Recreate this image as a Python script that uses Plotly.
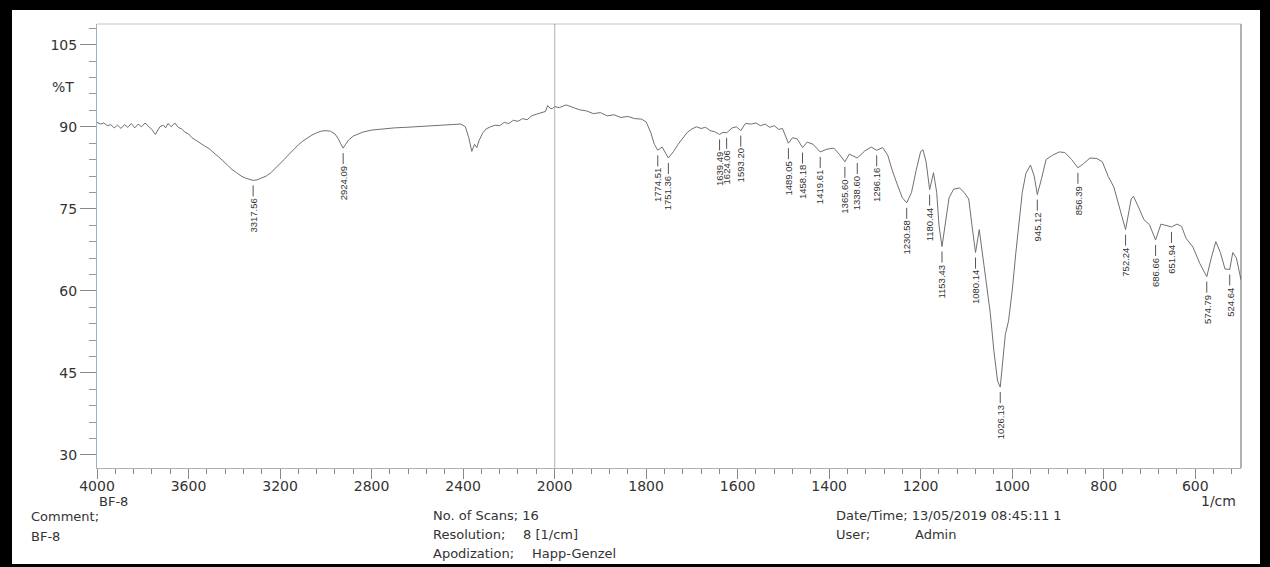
import numpy as np
import plotly.graph_objects as go

# ---------------- data ----------------
wavenumber = [
    4000, 3985, 3970, 3955, 3940, 3925, 3910, 3895, 3880, 3865, 3850, 3835, 3820, 3805,
    3790, 3775, 3760, 3745, 3735, 3725, 3710, 3700, 3690, 3675, 3660, 3645, 3630, 3615,
    3600, 3585, 3570, 3550, 3530, 3510, 3490, 3470, 3450, 3430, 3410, 3390, 3370, 3350,
    3330, 3317.56, 3300, 3280, 3260, 3240, 3220, 3200, 3180, 3160, 3140, 3120, 3100, 3080,
    3060, 3040, 3020, 3000, 2980, 2960, 2945, 2935, 2924.09, 2915, 2900, 2880, 2860, 2840,
    2800, 2760, 2700, 2650, 2600, 2550, 2500, 2450, 2410, 2390, 2375, 2362, 2350, 2340,
    2330, 2315, 2300, 2280, 2260, 2240, 2220, 2200, 2180, 2160, 2140, 2120, 2100, 2080,
    2060, 2040, 2030, 2020, 2010, 2000,
    1990, 1975, 1960, 1945, 1930, 1915, 1900, 1885, 1870, 1855, 1840, 1825, 1810, 1800,
    1790, 1782, 1774.51, 1765, 1751.36, 1740, 1730, 1720, 1710, 1700, 1690, 1680, 1670,
    1660, 1650, 1639.49, 1632, 1624.06, 1612, 1603, 1593.20, 1583, 1570, 1560, 1550, 1540,
    1530, 1520, 1510, 1502, 1495, 1489.05, 1480, 1470, 1458.18, 1448, 1435, 1419.61, 1405,
    1390, 1378, 1365.60, 1356, 1338.60, 1322, 1308, 1296.16, 1283, 1272, 1262, 1250, 1240,
    1230.58, 1220, 1210, 1200, 1195, 1188, 1180.44, 1172, 1165, 1160, 1153.43, 1145, 1138,
    1128, 1115, 1105, 1095, 1088, 1080.14, 1072, 1065, 1057, 1048, 1040, 1032, 1026.13,
    1020, 1015, 1008, 1000, 992, 985, 978, 970, 960, 952, 945.12, 936, 926, 912, 897, 885,
    870, 856.39, 845, 830, 815, 803, 790, 778, 768, 752.24, 740, 735, 725, 712, 700, 686.66,
    675, 665, 651.94, 640, 630, 620, 605, 590, 574.79, 565, 555, 545, 535, 524.64, 518, 510,
    503, 500,
]
transmittance = [
    90.8, 90.5, 90.7, 90.2, 90.4, 89.8, 90.3, 89.7, 90.4, 89.9, 90.6, 89.8, 90.5, 90.0,
    90.7, 90.1, 89.5, 88.6, 89.2, 90.0, 90.3, 89.8, 90.6, 90.0, 90.7, 89.9, 89.6, 89.0,
    88.7, 88.0, 87.6, 87.0, 86.5, 86.0, 85.3, 84.6, 83.8, 83.0, 82.2, 81.6, 81.0, 80.6,
    80.3, 80.2, 80.3, 80.6, 81.0, 81.6, 82.4, 83.2, 84.1, 85.0, 85.9, 86.7, 87.4, 88.0,
    88.5, 88.9, 89.2, 89.3, 89.2, 88.7, 87.8, 86.9, 86.1, 86.7, 87.6, 88.3, 88.7, 89.0,
    89.4, 89.6, 89.8, 89.9, 90.0, 90.1, 90.2, 90.4, 90.5, 90.0, 88.0, 85.5, 86.8, 86.2,
    87.5, 88.8, 89.6, 90.0, 90.3, 90.2, 90.8, 90.6, 91.2, 91.0, 91.5, 91.3, 92.0, 92.3,
    92.5, 92.8, 93.9, 93.4, 93.3, 93.7,
    93.5, 94.0, 93.6, 93.1, 92.9, 92.4, 92.6, 92.0, 92.2, 91.7, 91.9, 91.5, 91.4, 90.9,
    89.0, 86.8, 85.7, 86.3, 84.3, 85.5, 86.8, 88.0, 89.0, 89.6, 90.0, 89.7, 89.9,
    89.3, 89.1, 88.6, 89.0, 88.9, 89.8, 90.0, 89.3, 90.6, 90.5, 90.7, 90.2, 90.5,
    89.9, 90.2, 89.5, 89.7, 88.3, 87.0, 88.0, 87.8, 86.2, 87.2, 86.8, 85.4, 85.9,
    86.1, 85.0, 83.6, 85.0, 84.3, 85.6, 86.3, 85.7, 86.2, 84.8, 82.0, 79.2, 77.0,
    76.1, 78.0, 82.0, 85.5, 85.8, 83.5, 78.5, 81.6, 78.0, 72.0, 68.1, 72.5, 77.0,
    78.6, 78.8, 78.0, 76.8, 72.0, 67.0, 71.2, 67.0, 62.0, 56.0, 49.0, 43.5, 42.4,
    48.0, 52.0, 54.5, 60.0, 67.0, 73.0, 78.0, 81.5, 83.0, 81.0, 77.6, 80.5, 84.0, 84.8, 85.4, 85.3,
    84.0, 82.5, 83.2, 84.3, 84.2, 83.6, 80.9, 79.0, 76.0, 71.2, 76.8, 77.3, 75.5, 73.0, 72.1, 69.3,
    72.2, 72.0, 71.7, 72.2, 71.8, 69.6, 68.0, 65.0, 62.6, 66.0, 69.0, 67.0, 64.0, 63.9, 67.0, 66.0,
    63.5, 62.0,
]
peak_wn = [3317.56, 2924.09, 1774.51, 1751.36, 1639.49, 1624.06, 1593.20, 1489.05, 1458.18,
           1419.61, 1365.60, 1338.60, 1296.16, 1230.58, 1180.44, 1153.43, 1080.14, 1026.13,
           945.12, 856.39, 752.24, 686.66, 651.94, 574.79, 524.64]
peak_labels = ["3317.56", "2924.09", "1774.51", "1751.36", "1639.49", "1624.06", "1593.20",
               "1489.05", "1458.18", "1419.61", "1365.60", "1338.60", "1296.16", "1230.58",
               "1180.44", "1153.43", "1080.14", "1026.13", "945.12", "856.39", "752.24",
               "686.66", "651.94", "574.79", "524.64"]
x_ticks_left = [4000, 3600, 3200, 2800, 2400]
x_ticks_right = [2000, 1800, 1600, 1400, 1200, 1000, 800, 600]
y_ticks = [30, 45, 60, 75, 90, 105]

# ---------------- layout geometry ----------------
W_FIG, H_FIG = 1270, 567
ML, MR, MT, MB = 97, 29, 24, 99
PW = W_FIG - ML - MR
PH = H_FIG - MT - MB
SPLIT = 2000.0 / (2000.0 + 2 * 1500.0)


def pxx(px):
    return (px - ML) / PW


def pxy(py):
    return (MT + PH - py) / PH


wn = np.array(wavenumber, dtype=float)
tr = np.array(transmittance, dtype=float)
left = wn >= 2000
right = wn <= 2000

CURVE = "#707070"
TXT = "#333333"
FONT = "DejaVu Sans, Liberation Sans, Arial, sans-serif"

fig = go.Figure()
fig.add_trace(go.Scatter(x=wn[left], y=tr[left], mode="lines", xaxis="x", yaxis="y",
                         line=dict(color=CURVE, width=1), hoverinfo="skip", showlegend=False))
fig.add_trace(go.Scatter(x=wn[right], y=tr[right], mode="lines", xaxis="x2", yaxis="y",
                         line=dict(color=CURVE, width=1), hoverinfo="skip", showlegend=False))

axis_common = dict(showgrid=False, zeroline=False, showline=True, linecolor="#b0b0b0",
                   linewidth=1, ticks="outside", ticklen=10, tickcolor="#888888",
                   ticklabelstandoff=-5,
                   tickfont=dict(family=FONT, size=14, color=TXT))

fig.update_layout(
    width=W_FIG, height=H_FIG,
    margin=dict(l=ML, r=MR, t=MT, b=MB, pad=0),
    paper_bgcolor="white", plot_bgcolor="white",
    xaxis=dict(domain=[0, SPLIT], range=[4000, 2000], anchor="y", tickmode="array",
               tickvals=x_ticks_left,
               minor=dict(tickmode="linear", tick0=4000, dtick=80, ticks="outside",
                          ticklen=5, tickcolor="#888888"),
               **axis_common),
    xaxis2=dict(domain=[SPLIT, 1], range=[2000, 500], anchor="y", tickmode="array",
                tickvals=x_ticks_right,
                minor=dict(tickmode="linear", tick0=2000, dtick=40, ticks="outside",
                           ticklen=5, tickcolor="#888888"),
                **axis_common),
    yaxis=dict(domain=[0, 1], range=[27.6, 108.8], anchor="x", tickmode="array",
               tickvals=y_ticks, showgrid=False, zeroline=False, showline=True,
               linecolor="#9fb2c4", linewidth=1, ticks="outside", ticklen=16,
               tickcolor="#888888", tickfont=dict(family=FONT, size=14, color=TXT),
               minor=dict(tickmode="linear", tick0=30, dtick=3, ticks="outside",
                          ticklen=7, tickcolor="#999999")),
)

shapes = []
annotations = []

# peak markers and labels
for w, lab in zip(peak_wn, peak_labels):
    t = float(np.interp(-w, -wn, tr))
    xr = "x" if w >= 2000 else "x2"
    shapes.append(dict(type="line", xref=xr, yref="y", x0=w, x1=w, ysizemode="pixel",
                       yanchor=t, y0=-5, y1=-16, line=dict(color="#555555", width=1)))
    annotations.append(dict(x=w, y=t, xref=xr, yref="y", text=lab, showarrow=False,
                            textangle=-90, xanchor="center", yanchor="top", yshift=-16,
                            font=dict(family="Liberation Sans, Arial, sans-serif", size=9.5,
                                      color=TXT)))

# frame lines
shapes.append(dict(type="line", xref="paper", yref="paper", x0=0, x1=1, y0=1, y1=1,
                   line=dict(color="#c4c4c4", width=1)))
shapes.append(dict(type="line", xref="paper", yref="paper", x0=1, x1=1, y0=0, y1=1,
                   line=dict(color="#666666", width=1)))
shapes.append(dict(type="line", xref="x2", yref="paper", x0=2000, x1=2000, y0=0, y1=1,
                   line=dict(color="#555555", width=1)))
# outer black border of the scan
shapes.append(dict(type="rect", xref="paper", yref="paper", x0=pxx(6), x1=pxx(1266),
                   y0=pxy(570), y1=pxy(4), line=dict(color="black", width=12),
                   fillcolor="rgba(0,0,0,0)"))

def text_at(px, py, s, size=13, anchor="left"):
    annotations.append(dict(x=pxx(px), y=pxy(py), xref="paper", yref="paper", text=s,
                            showarrow=False, xanchor=anchor, yanchor="middle",
                            font=dict(family=FONT, size=size, color=TXT)))

text_at(76, 87, "%T", size=14, anchor="right")
text_at(97, 501, "BF-8", size=13)
text_at(1238, 501, "1/cm", size=14, anchor="right")
text_at(29, 516, "Comment;")
text_at(29, 536, "BF-8")
text_at(431, 515, "No. of Scans; 16")
text_at(431, 534, "Resolution;")
text_at(521, 534, "8 [1/cm]")
text_at(431, 553, "Apodization;")
text_at(530, 553, "Happ-Genzel")
text_at(834, 515, "Date/Time; 13/05/2019 08:45:11 1")
text_at(834, 534, "User;")
text_at(913, 534, "Admin")

fig.update_layout(shapes=shapes, annotations=annotations)
fig.write_html("out.html", config={"displayModeBar": False},
               post_script="document.body.style.margin='0px';document.body.style.overflow='hidden';")
